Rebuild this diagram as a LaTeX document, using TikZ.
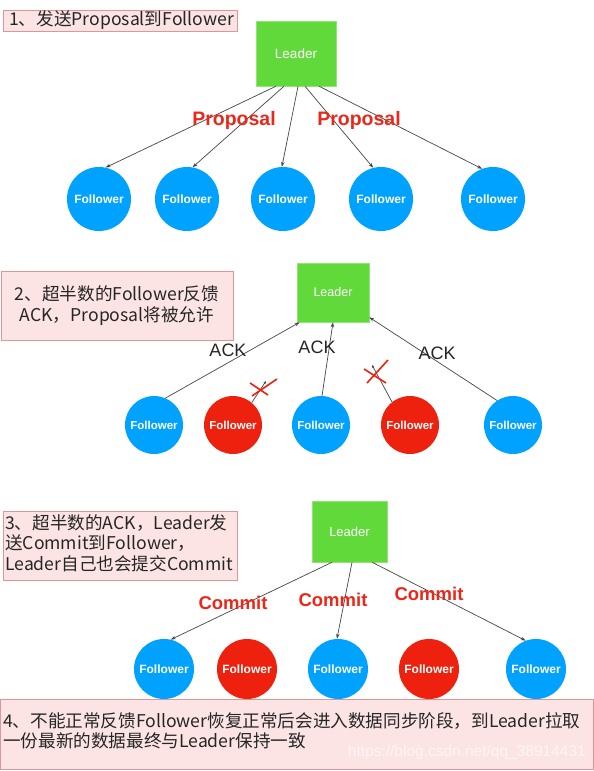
\documentclass[tikz,border=0pt]{standalone}
\usepackage{fontspec}
\setmainfont{Liberation Sans}
\newfontfamily\cjk{Noto Sans CJK SC}
\usetikzlibrary{arrows.meta,calc}
\definecolor{lgreen}{RGB}{98,217,58}
\definecolor{fblue}{RGB}{0,162,255}
\definecolor{fred}{RGB}{237,33,13}
\definecolor{tred}{RGB}{232,40,26}
\definecolor{boxfill}{RGB}{252,228,228}
\definecolor{boxdraw}{RGB}{222,150,150}
\definecolor{linegray}{RGB}{70,70,70}
\tikzset{
  leaderbox/.style={fill=lgreen,draw=lgreen!70!white,line width=0.6pt,inner sep=0pt,text=white,font=\fontsize{13.5}{14}\selectfont},
  fnode/.style={circle,inner sep=0pt,text=white,font=\fontsize{12}{13}\selectfont\bfseries},
  fblue/.style={fnode,fill=fblue},
  fred/.style={fnode,fill=fred},
  conn/.style={draw=linegray,line width=0.7pt,-{Stealth[length=5pt,width=3.5pt]}},
  redlbl/.style={text=tred,font=\fontsize{19.5}{20}\selectfont\bfseries,inner sep=0pt},
  acklbl/.style={text=black!85,font=\fontsize{18}{19}\selectfont,inner sep=0pt},
  notebox/.style={fill=boxfill,draw=boxdraw,line width=0.8pt,inner sep=0pt},
  notetext/.style={font=\cjk\fontsize{17.6}{20.5}\selectfont,text=black!85,inner sep=0pt},
  crossmark/.style={draw=fred,line width=1.6pt}
}
\begin{document}
\begin{tikzpicture}[x=1pt,y=-1pt]
\useasboundingbox (0,0) rectangle (594,771);
\fill[white] (0,0) rectangle (594,771);

% ---------- section 1 ----------
\node[notebox,minimum width=234pt,minimum height=21pt] (B1) at (120,20.5) {};
\node[notetext,anchor=west] (T1) at (9,20.5) {1、发送Proposal到Follower};
\node[leaderbox,minimum width=80pt,minimum height=65pt] (L1) at (296,53.5) {Leader};
\node[fblue,minimum size=64pt] (A1) at (99,199) {Follower};
\node[fblue,minimum size=64pt] (A2) at (187,199) {Follower};
\node[fblue,minimum size=64pt] (A3) at (283,199) {Follower};
\node[fblue,minimum size=64pt] (A4) at (381,199) {Follower};
\node[fblue,minimum size=64pt] (A5) at (493,199) {Follower};
\draw[conn] ($(L1.south west)!0.25!(L1.south east)$) -- (A1.78);
\draw[conn] ($(L1.south west)!0.35!(L1.south east)$) -- (A2.80);
\draw[conn] ($(L1.south west)!0.525!(L1.south east)$) -- (A3.92);
\draw[conn] ($(L1.south west)!0.6125!(L1.south east)$) -- (A4.104);
\draw[conn] ($(L1.south west)!0.7875!(L1.south east)$) -- (A5.110);
\node[redlbl] (P1) at (234,120) {Proposal};
\node[redlbl] (P2) at (359,120) {Proposal};

% ---------- section 2 ----------
\node[notebox,minimum width=232pt,minimum height=69pt] (B2) at (117,305.5) {};
\node[notetext,align=center] (T2) at (117,305.5) {2、超半数的Follower反馈\\ACK，Proposal将被允许};
\node[leaderbox,minimum width=72pt,minimum height=59pt,font=\fontsize{12.5}{13}\selectfont] (L2) at (333,292.5) {Leader};
\node[fblue,minimum size=58pt,font=\fontsize{11.5}{12}\selectfont\bfseries] (C1) at (154,425) {Follower};
\node[fred,minimum size=58pt,font=\fontsize{11.5}{12}\selectfont\bfseries] (C2) at (233,425) {Follower};
\node[fblue,minimum size=58pt,font=\fontsize{11.5}{12}\selectfont\bfseries] (C3) at (321,425) {Follower};
\node[fred,minimum size=58pt,font=\fontsize{11.5}{12}\selectfont\bfseries] (C4) at (410,425) {Follower};
\node[fblue,minimum size=58pt,font=\fontsize{11.5}{12}\selectfont\bfseries] (C5) at (513,425) {Follower};
\draw[conn] (C1.67) -- ($(L2.south west)!0.04!(L2.south east)$);
\draw[conn] (C3.88) -- (L2.south);
\draw[conn] (C5.123) -- ($(L2.south east)+(0,-5)$);
\coordinate (E2) at (266,381);
\coordinate (E4) at (372,365);
\draw[draw=linegray,line width=0.7pt,-{Stealth[length=3pt,width=2.5pt]}] (C2.50) -- (E2);
\draw[draw=linegray,line width=0.7pt,-{Stealth[length=3pt,width=2.5pt]}] (C4.128) -- (E4);
\draw[crossmark] (250,383) -- (268,395);
\draw[crossmark] (252,396) -- (277,379);
\draw[crossmark] (364,369) -- (386,383);
\draw[crossmark] (367,383) -- (388,360);
\node[acklbl] (K1) at (228,350) {ACK};
\node[acklbl] (K2) at (317,347) {ACK};
\node[acklbl] (K3) at (437,353) {ACK};

% ---------- section 3 ----------
\node[notebox,minimum width=234pt,minimum height=69pt] (B3) at (120,545.5) {};
\node[notetext,align=left,anchor=north west] (T3) at (5,514) {3、超半数的ACK，Leader发\\送Commit到Follower，\\Leader自己也会提交Commit};
\node[leaderbox,minimum width=75pt,minimum height=61pt,font=\fontsize{13}{14}\selectfont] (L3) at (349.5,531.5) {Leader};
\node[fblue,minimum size=60pt] (D1) at (164,669) {Follower};
\node[fred,minimum size=60pt] (D2) at (247,669) {Follower};
\node[fblue,minimum size=60pt] (D3) at (338,669) {Follower};
\node[fred,minimum size=60pt] (D4) at (429,669) {Follower};
\node[fblue,minimum size=60pt] (D5) at (536,669) {Follower};
\draw[conn] ($(L3.south west)!0.267!(L3.south east)$) -- (D1.77);
\draw[conn] ($(L3.south west)!0.533!(L3.south east)$) -- (D3.92);
\draw[conn] ($(L3.south west)!0.8!(L3.south east)$) -- (D5.110);
\node[redlbl,font=\fontsize{18.5}{19}\selectfont\bfseries] (M1) at (233,603) {Commit};
\node[redlbl,font=\fontsize{18.5}{19}\selectfont\bfseries] (M2) at (333,600) {Commit};
\node[redlbl,font=\fontsize{18.5}{19}\selectfont\bfseries] (M3) at (429,594) {Commit};

% ---------- section 4 ----------
\node[notebox,minimum width=593pt,minimum height=70pt] (B4) at (296.5,734) {};
\node[notetext,align=left,anchor=north west] (T4) at (3,712) {4、不能正常反馈Follower恢复正常后会进入数据同步阶段，到Leader拉取\\一份最新的数据最终与Leader保持一致};
\node[text=white!96!red,font=\fontsize{15.5}{16}\selectfont,inner sep=0pt,anchor=east] (W) at (586,752) {https://blog.csdn.net/qq\_38914431};
\end{tikzpicture}
\end{document}
